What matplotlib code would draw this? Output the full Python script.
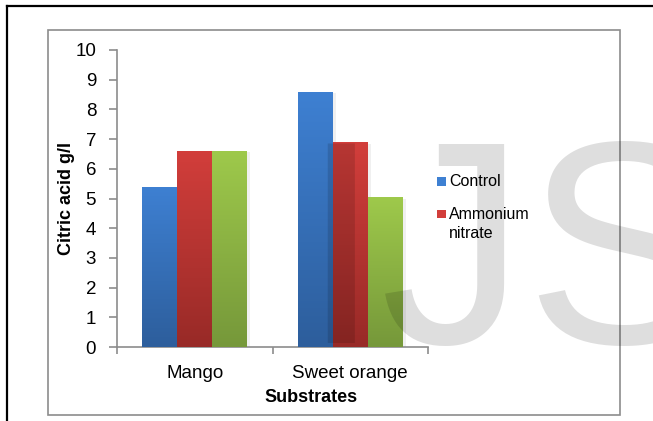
import numpy as np
import matplotlib.pyplot as plt
from matplotlib.patches import Rectangle
from matplotlib.lines import Line2D
from matplotlib.colors import LinearSegmentedColormap

plt.rcParams['font.family'] = ['Liberation Sans', 'DejaVu Sans']

substrates = ["Mango", "Sweet orange"]
control = [5.4, 8.6]
ammonium_nitrate = [6.6, 6.9]
third_series = [6.6, 5.05]
legend_names = ["Control", "Ammonium\nnitrate"]
y_ticks = list(range(0, 11))

# top / bottom colour of each gradient bar
bar_colors = [("#3e80d2", "#2d5e9c"),
              ("#d23e3b", "#982a27"),
              ("#9ec94b", "#76983a")]

W, H = 653, 421


def fx(px):
    return px / W


def fy(py):
    return 1 - py / H


fig = plt.figure(figsize=(6.53, 4.21), dpi=100)

# outer black frame and inner grey chart frame
fig.add_artist(Line2D([fx(7), 1.0], [fy(6), fy(6)], color="black", lw=1.6))
fig.add_artist(Line2D([fx(7), fx(7)], [fy(6), 0.0], color="black", lw=1.6))
fig.add_artist(Rectangle((fx(48), fy(415)), fx(620) - fx(48), fy(30) - fy(415),
                         fill=False, edgecolor="#8c8c8c", lw=1.2))

ax = fig.add_axes([fx(117), fy(347), fx(428) - fx(117), fy(50) - fy(347)])

x = np.arange(len(substrates))
width = 0.225
series = [control, ammonium_nitrate, third_series]

for i, vals in enumerate(series):
    top, bottom = bar_colors[i]
    cmap = LinearSegmentedColormap.from_list("g%d" % i, [bottom, top])
    bars = ax.bar(x + (i - 1) * width, vals, width, color=top, zorder=2)
    for b in bars:
        # soft shadow
        ax.add_patch(Rectangle((b.get_x() + 0.02, 0), b.get_width(), b.get_height() - 0.05,
                               color="black", alpha=0.06, zorder=1, lw=0))
        grad = np.linspace(0, 1, 100).reshape(-1, 1)
        im = ax.imshow(grad, cmap=cmap, origin="lower", aspect="auto",
                       extent=[b.get_x(), b.get_x() + b.get_width(), 0, b.get_height()],
                       zorder=3)
        im.set_clip_path(b)

ax.set_xlim(-0.5, 1.5)
ax.set_ylim(0, 10)
ax.set_yticks(y_ticks)
ax.set_yticklabels([str(t) for t in y_ticks], fontsize=13.5)
ax.set_xticks([-0.5, 0.5, 1.5])
ax.set_xticklabels([])
ax.set_xticks(x, minor=True)
ax.set_xticklabels(substrates, minor=True, fontsize=13.5)
ax.tick_params(axis="x", which="minor", length=0, pad=13)
ax.tick_params(axis="x", which="major", length=5, width=1.2, color="#8c8c8c", direction="out")
ax.tick_params(axis="y", length=6, width=1.2, color="#8c8c8c", pad=9)

for s in ["top", "right"]:
    ax.spines[s].set_visible(False)
for s in ["left", "bottom"]:
    ax.spines[s].set_color("#8c8c8c")
    ax.spines[s].set_linewidth(1.2)

ax.set_ylabel("Citric acid g/l", fontsize=13, fontweight="bold", labelpad=0)
fig.text(fx(311), fy(398), "Substrates", fontsize=13, fontweight="bold",
         ha="center", va="center")

# legend (only two entries visible in the picture)
square_y = [181, 214]
for i, name in enumerate(legend_names):
    fig.add_artist(Rectangle((fx(437), fy(square_y[i] + 4.5)), fx(9), 9 / H,
                             color=bar_colors[i][0], lw=0))
fig.text(fx(449), fy(181), legend_names[0], fontsize=11.5, ha="left", va="center")
fig.text(fx(449), fy(207), legend_names[1], fontsize=11.5, ha="left", va="top",
         linespacing=1.3)

# watermark
fig.text(fx(300), fy(343), "IJS", fontsize=209, color="black", alpha=0.13,
         ha="left", va="baseline", zorder=10)

fig.savefig("out.png", dpi=100)
